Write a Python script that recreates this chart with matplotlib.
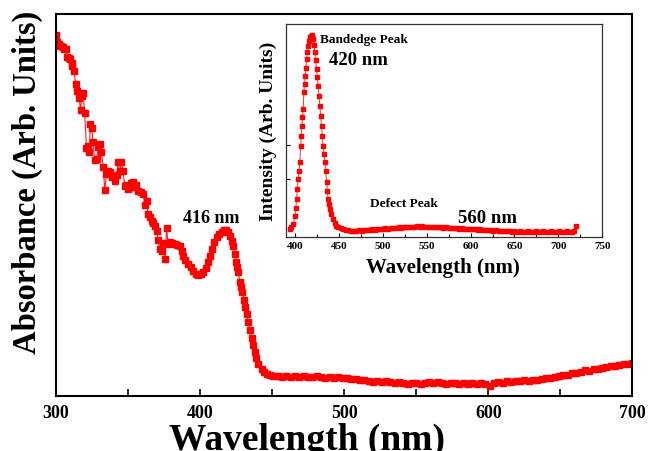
import matplotlib
matplotlib.use('Agg')
import matplotlib.pyplot as plt
from matplotlib.ticker import MultipleLocator, FixedLocator

plt.rcParams['font.family'] = ['Liberation Serif', 'DejaVu Serif']
plt.rcParams['font.weight'] = 'bold'

# absorbance spectrum (main panel)
abs_wl = [
    300.0, 300.9, 302.0, 302.8, 304.0, 304.7, 306.0, 306.9, 307.8, 309.0,
    309.7, 311.0, 311.6, 312.7, 313.9, 315.1, 316.2, 317.2, 318.0, 319.0,
    320.1, 321.3, 322.4, 323.1, 324.1, 325.0, 325.9, 327.0, 328.3, 329.5,
    330.6, 331.7, 333.0, 334.0, 335.2, 336.5, 337.5, 339.0, 341.0, 342.2,
    343.3, 344.4, 345.6, 346.7, 347.9, 349.0, 350.2, 351.5, 352.5, 353.7,
    354.9, 356.0, 357.2, 358.8, 360.6, 362.0, 363.0, 364.1, 365.3, 366.5,
    367.6, 368.8, 370.0, 371.0, 372.2, 373.4, 374.5, 375.7, 376.9, 378.0,
    379.2, 380.5, 382.6, 384.3, 386.1, 387.3, 388.4, 390.0, 391.9, 393.5,
    395.3, 397.0, 398.8, 400.5, 402.3, 404.0, 405.8, 407.0, 408.1, 410.0,
    411.6, 413.5, 415.1, 416.5, 418.1, 419.5, 420.8, 422.0, 423.1, 424.0,
    425.0, 425.8, 426.6, 427.8, 428.3, 429.4, 430.6, 431.3, 432.4, 433.5,
    434.7, 435.9, 437.0, 438.0, 438.9, 440.5, 442.8, 444.5, 446.3, 448.5,
    451, 454, 457, 460, 463, 466, 469, 472, 475, 478,
    481, 484, 487, 490, 493, 496, 499, 502, 505, 508,
    511, 514, 517, 520, 523, 526, 529, 532, 535, 538,
    541, 544, 547, 550, 553, 556, 559, 562, 565, 568,
    571, 574, 577, 580, 583, 586, 589, 592, 595, 598,
    601, 604, 607, 610, 613, 616, 619, 622, 625, 628,
    631, 634, 637, 640, 643, 646, 649, 652, 655, 658,
    661, 664, 667, 670, 673, 676, 679, 682, 685, 688,
    691, 694, 697, 700,
]
abs_val = [
    3.60, 3.53, 3.51, 3.49, 3.49, 3.48, 3.46, 3.46, 3.38, 3.37,
    3.36, 3.32, 3.29, 3.24, 3.11, 3.04, 2.97, 2.85, 2.99, 3.02,
    2.82, 2.47, 2.49, 2.43, 2.71, 2.67, 2.53, 2.35, 2.36, 2.48,
    2.51, 2.43, 2.28, 2.05, 2.21, 2.24, 2.23, 2.18, 2.14, 2.20,
    2.33, 2.24, 2.33, 2.24, 2.09, 2.10, 2.06, 2.08, 2.12, 2.13,
    2.08, 2.10, 2.04, 2.03, 2.01, 1.90, 1.94, 1.81, 1.78, 1.74,
    1.72, 1.69, 1.64, 1.55, 1.46, 1.44, 1.52, 1.36, 1.67, 1.51,
    1.53, 1.52, 1.51, 1.50, 1.49, 1.44, 1.39, 1.35, 1.31, 1.28,
    1.24, 1.21, 1.20, 1.21, 1.23, 1.27, 1.33, 1.39, 1.46, 1.53,
    1.58, 1.61, 1.63, 1.65, 1.65, 1.63, 1.59, 1.54, 1.49, 1.41,
    1.33, 1.28, 1.23, 1.14, 1.09, 1.04, 0.96, 0.89, 0.82, 0.74,
    0.66, 0.58, 0.51, 0.44, 0.38, 0.32, 0.27, 0.24, 0.22, 0.21,
    0.20, 0.20, 0.19, 0.20, 0.19, 0.20, 0.19, 0.20, 0.19, 0.19,
    0.20, 0.19, 0.18, 0.19, 0.18, 0.19, 0.18, 0.18, 0.17, 0.17,
    0.16, 0.16, 0.15, 0.14, 0.15, 0.14, 0.15, 0.14, 0.13, 0.14,
    0.13, 0.12, 0.13, 0.13, 0.12, 0.13, 0.14, 0.13, 0.14, 0.13,
    0.12, 0.13, 0.13, 0.12, 0.13, 0.12, 0.13, 0.12, 0.13, 0.12,
    0.10, 0.13, 0.14, 0.13, 0.15, 0.14, 0.15, 0.15, 0.16, 0.15,
    0.16, 0.16, 0.17, 0.18, 0.18, 0.19, 0.20, 0.21, 0.21, 0.23,
    0.23, 0.24, 0.26, 0.25, 0.27, 0.27, 0.28, 0.29, 0.30, 0.30,
    0.31, 0.32, 0.32, 0.33,
]

# photoluminescence spectrum (inset)
pl_wl = [
    394.3, 396.0, 398.1, 400.0, 401.0, 401.9, 402.8, 403.7, 404.7, 405.7,
    406.5, 407.2, 407.9, 408.6, 409.4, 410.2, 411.0, 411.7, 412.5, 413.3,
    414.2, 415.1, 416.0, 417.0, 418.0, 419.0, 419.5, 420.0, 420.8, 421.7,
    422.7, 423.6, 424.6, 425.5, 426.4, 427.4, 428.4, 429.3, 430.3, 431.2,
    432.1, 433.1, 434.1, 435.0, 436.0, 436.9, 437.8, 438.7, 439.7, 441.5,
    443.5, 445.4, 447.3, 449.0,
    452, 455, 458, 461, 464, 467, 470, 473, 476, 479,
    482, 485, 488, 491, 494, 497, 500, 503, 506, 509,
    512, 515, 518, 521, 524, 527, 530, 533, 536, 539,
    542, 545, 548, 551, 554, 557, 560, 563, 566, 569,
    572, 575, 578, 581, 584, 587, 590, 593, 596, 599,
    602, 605, 608, 611, 614, 617, 620, 623, 626, 629,
    632, 635, 638, 641, 644, 647, 650, 653, 656, 659,
    662, 665, 668, 671, 674, 677, 680, 683, 686, 689,
    692, 695, 698, 701, 704, 707, 710, 713, 716, 718,
    720,
]
pl_val = [
    8, 10, 13, 21, 29, 38, 48, 58, 66, 75,
    91, 101, 111, 120, 128, 145, 153, 161, 169, 178,
    185, 191, 196, 200, 201, 202, 199, 200, 198, 192,
    185, 177, 168, 160, 151, 141, 131, 121, 111, 101,
    91, 83, 75, 66, 55, 46, 38, 33, 28, 23,
    18, 14, 11, 10,
    9, 8, 7.5, 7, 6.5, 6.5, 6, 7, 6.5, 7,
    7.5, 7, 8, 7.5, 8, 8.5, 8, 9, 8.5, 9.5,
    9, 9.5, 10, 9.5, 10, 10.5, 10, 10.5, 10, 11,
    10.5, 11.5, 10.5, 10.5, 10, 10.5, 10, 10.5, 10, 9.5,
    10, 9.5, 9.5, 9, 9.5, 8.5, 9, 8.5, 8.5, 8,
    8.5, 8, 7.5, 8, 7.5, 7, 7.5, 7, 6.5, 7,
    6.5, 6, 6.5, 6, 6, 5.5, 6, 5.5, 6, 5.5,
    5.5, 6, 5.5, 5.5, 6, 5.5, 5.5, 6, 5.5, 5.5,
    6, 5.5, 5.5, 6, 5.5, 5.5, 6, 5, 5.5, 6,
    11,
]

fig = plt.figure(figsize=(6.48, 4.52), dpi=100)

# main panel
ax = fig.add_axes([0.086, 0.1223, 0.890, 0.8445])
ax.plot(abs_wl, abs_val, color='#ff2020', linewidth=0.8, marker='s',
        markersize=4.8, markerfacecolor='red', markeredgecolor='red')
ax.set_xlim(300, 700)
ax.set_ylim(0, 3.81)
ax.xaxis.set_major_locator(MultipleLocator(100))
ax.xaxis.set_minor_locator(MultipleLocator(50))
ax.tick_params(axis='x', which='major', direction='in', length=5, width=1.2,
               labelsize=13, pad=6)
ax.tick_params(axis='x', which='minor', direction='in', length=5, width=1.2)
ax.set_yticks([])
for s in ax.spines.values():
    s.set_linewidth(1.5)
ax.text(407.6, 1.78, '416 nm', fontsize=13, fontweight='bold',
        ha='center', va='center')

# axis titles placed by hand, as in the original figure
fig.text(307 / 648, 0.026, 'Wavelength (nm)', fontsize=27, fontweight='bold',
         ha='center', va='center')
fig.text(0.042, 0.597, 'Absorbance (Arb. Units)', fontsize=23.5,
         fontweight='bold', rotation=90, ha='center', va='center')

# inset
ins = fig.add_axes([0.4409, 0.4728, 0.4886, 0.4719])
ins.plot(pl_wl, pl_val, color='#ff3030', linewidth=0.7, marker='s',
         markersize=2.6, markerfacecolor='red', markeredgecolor='red')
ins.set_xlim(389.5, 750)
ins.set_ylim(0, 213)
ins.xaxis.set_major_locator(MultipleLocator(50))
ins.xaxis.set_minor_locator(MultipleLocator(25))
ins.yaxis.set_major_locator(FixedLocator([58, 92]))
ins.tick_params(axis='x', which='major', direction='in', length=3, width=0.8,
                labelsize=8, pad=3)
ins.tick_params(axis='x', which='minor', direction='in', length=2, width=0.8)
ins.tick_params(axis='y', direction='in', length=3, width=0.8, labelleft=False)
for s in ins.spines.values():
    s.set_linewidth(0.9)
    s.set_color('#333333')
ins.text(428.4, 198, 'Bandedge Peak', fontsize=9.5, fontweight='bold',
         ha='left', va='center')
ins.text(438.6, 178, '420 nm', fontsize=13.5, fontweight='bold',
         ha='left', va='center')
ins.text(485, 34, 'Defect Peak', fontsize=9.5, fontweight='bold',
         ha='left', va='center')
ins.text(586, 20, '560 nm', fontsize=13.5, fontweight='bold',
         ha='left', va='center')
fig.text(443 / 648, 1 - 268 / 452, 'Wavelength (nm)', fontsize=15,
         fontweight='bold', ha='center', va='center')
fig.text(268 / 648, 1 - 131 / 452, 'Intensity (Arb. Units)', fontsize=14,
         fontweight='bold', rotation=90, ha='center', va='center')

fig.savefig('out.png', dpi=100)
